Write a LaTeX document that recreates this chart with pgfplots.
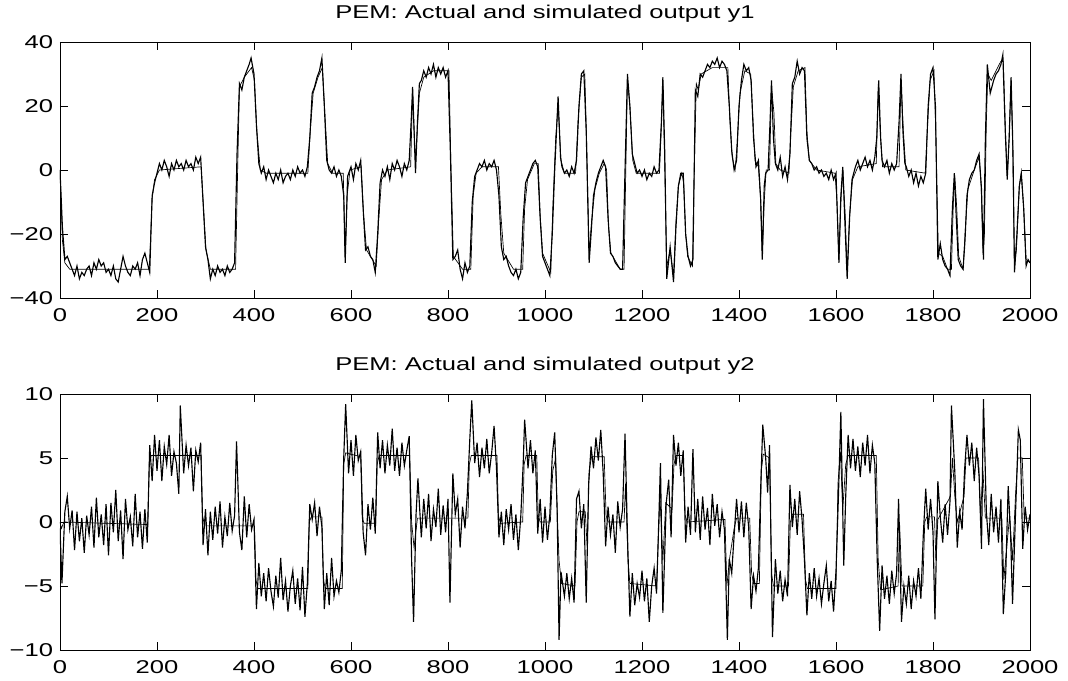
\documentclass[border=0pt]{standalone}
\usepackage{fontspec}
\setmainfont{Liberation Sans}[FakeStretch=1.38]
\usepackage{pgfplots}
\pgfplotsset{compat=1.18}

\pgfplotstableread{
x y
0 0
5 -18
10 -28
15 -27
20 -29
25 -31
30 -33
35 -30
40 -34
45 -32
50 -33
55 -31
60 -30
65 -33
70 -29
75 -31
80 -28
85 -30
90 -29
95 -32
100 -31
105 -33
110 -30
115 -34
120 -35
125 -31
130 -27
135 -30
140 -32
145 -33
150 -30
155 -31
160 -29
165 -33
170 -28
175 -26
180 -29
185 -32
190 -8
195 -4
200 -1
205 2
210 0
215 3
220 1
225 -2
230 2
235 0
240 3
245 1
250 2
255 0
260 3
265 1
270 2
275 0
280 4
285 2
290 4
295 -10
300 -24
305 -28
310 -34
315 -31
320 -33
325 -30
330 -32
335 -31
340 -33
345 -30
350 -32
355 -31
360 -29
365 5
370 27
375 25
380 29
385 31
390 33
394 35
400 30
405 14
410 2
415 -1
420 1
425 -3
430 0
435 -2
440 -4
445 -1
450 -3
455 0
460 -4
465 -2
470 -1
475 -3
480 0
485 -2
490 1
495 -1
500 0
505 -2
510 1
515 10
520 24
525 26
530 29
535 31
540 35
545 20
550 3
555 0
560 -1
565 1
570 -2
575 0
580 -2
585 -8
588 -29
593 -2
600 1
605 -3
610 2
615 0
620 3
625 -12
630 -25
635 -24
640 -27
645 -28
650 -32
655 -20
660 -4
665 0
670 -2
675 1
680 -3
685 2
690 0
695 3
700 1
705 -2
710 2
715 0
720 3
724 15
727 26
733 -1
737 15
741 27
745 28
750 31
755 29
760 32
765 30
770 33
775 29
780 32
785 30
790 32
795 29
800 31
805 5
810 -28
815 -27
820 -25
825 -31
830 -34
835 -29
840 -32
845 -30
850 -10
855 -2
860 0
865 2
870 1
875 3
880 0
885 2
890 1
895 3
900 0
905 -8
910 -24
915 -28
920 -27
925 -30
930 -32
935 -33
940 -31
945 -34
950 -32
955 -15
960 -4
965 -2
970 0
975 2
980 3
985 1
990 -15
995 -27
1000 -29
1005 -31
1010 -33
1015 -20
1020 0
1027 23
1032 4
1035 1
1040 -1
1045 0
1050 -2
1055 1
1060 -1
1065 3
1070 20
1075 30
1080 31
1085 12
1091 -29
1095 -20
1100 -8
1105 -4
1110 -1
1115 1
1120 3
1125 1
1130 -15
1135 -26
1140 -27
1145 -29
1150 -30
1155 -31
1160 -31
1165 0
1170 30
1175 20
1180 5
1185 2
1190 -1
1195 0
1200 -2
1205 0
1210 -3
1215 -1
1220 -2
1225 1
1230 -1
1235 0
1240 15
1243 29
1247 5
1251 -34
1258 -24
1265 -35
1270 -18
1275 -5
1280 -1
1285 -1
1290 -20
1295 -27
1300 -30
1305 -28
1310 25
1315 23
1320 30
1325 29
1330 31
1335 33
1340 32
1345 34
1350 33
1355 35
1360 32
1365 34
1370 33
1375 31
1380 20
1385 6
1390 0
1395 3
1400 20
1405 28
1410 33
1415 31
1420 32
1425 28
1430 10
1435 1
1440 3
1445 -10
1448 -28
1452 -5
1455 -1
1460 0
1464 15
1467 28
1471 10
1475 2
1480 0
1485 4
1490 -2
1495 1
1500 -3
1505 5
1510 27
1515 29
1520 34
1525 30
1530 32
1535 31
1540 10
1545 3
1550 2
1555 0
1560 1
1565 -1
1570 0
1575 -2
1580 -1
1585 -3
1590 0
1595 -3
1600 -1
1606 -29
1610 -8
1614 1
1618 -15
1623 -34
1628 -15
1633 -3
1640 1
1645 3
1650 0
1655 2
1660 4
1665 1
1670 3
1675 0
1680 4
1684 10
1688 28
1692 10
1695 3
1700 1
1705 3
1710 -1
1715 2
1720 0
1725 2
1730 15
1734 30
1738 12
1742 2
1745 1
1750 -2
1755 0
1760 -4
1765 -1
1770 -5
1775 -2
1780 -4
1785 -1
1790 20
1795 30
1800 32
1805 20
1810 -28
1815 -23
1820 -28
1825 -30
1830 -31
1835 -33
1840 -12
1844 -1
1848 -15
1852 -28
1857 -30
1862 -31
1866 -22
1870 -8
1875 -3
1880 -1
1885 0
1890 3
1895 5
1900 -6
1904 -28
1908 10
1912 33
1918 24
1925 28
1930 30
1935 31
1940 33
1944 36
1949 12
1953 -3
1957 10
1961 29
1965 5
1968 -32
1973 -20
1978 -5
1982 -1
1987 -12
1992 -30
1996 -28
2000 -29
}\yoneact

\pgfplotstableread{
x y
0 0
5 -22
10 -29
20 -31
184 -31
190 -9
195 -3
205 0
291 1
296 -12
301 -25
310 -31
362 -31
366 -2
370 26
380 29
395 32
401 28
406 12
413 0
425 -1
511 -1
516 12
522 24
532 29
541 32
546 18
552 2
562 -1
584 -1
586 -14
588 -27
592 -8
598 0
621 1
626 -14
632 -25
652 -30
657 -16
663 -3
675 0
723 1
727 24
733 2
741 24
750 29
770 31
802 31
806 2
811 -27
830 -31
847 -31
852 -8
858 -1
870 1
904 1
909 -14
915 -26
935 -31
954 -31
958 -12
964 -3
978 2
986 2
990 -14
995 -26
1012 -32
1016 -12
1022 10
1027 20
1033 3
1040 -1
1063 -1
1068 15
1075 29
1082 30
1086 8
1091 -26
1096 -16
1103 -6
1112 -1
1122 2
1127 0
1131 -18
1136 -26
1155 -31
1163 -31
1166 -5
1170 28
1175 20
1181 3
1188 -1
1236 -1
1239 10
1243 27
1247 0
1251 -30
1258 -25
1265 -33
1270 -16
1275 -5
1282 -1
1286 -4
1290 -20
1294 -27
1304 -30
1307 -5
1312 27
1316 25
1322 30
1345 32
1377 32
1381 16
1386 4
1392 0
1396 8
1402 24
1412 31
1424 30
1428 18
1433 3
1440 1
1444 -8
1448 -27
1452 -10
1456 0
1463 0
1467 26
1472 18
1476 2
1485 0
1503 -1
1507 12
1512 26
1522 31
1536 32
1540 12
1545 3
1560 0
1598 -1
1602 -10
1606 -28
1610 -10
1614 0
1619 -14
1623 -32
1628 -14
1634 -3
1645 1
1683 2
1687 26
1692 10
1696 1
1730 1
1734 28
1739 12
1744 0
1784 -1
1788 12
1794 28
1802 31
1806 10
1811 -26
1820 -27
1830 -31
1838 -31
1842 -10
1845 -2
1849 -12
1853 -27
1862 -31
1866 -20
1872 -6
1885 0
1895 4
1899 -4
1903 -26
1906 -20
1910 15
1913 30
1920 28
1940 34
1945 34
1949 14
1953 -2
1957 10
1961 28
1964 10
1968 -30
1972 -25
1978 -5
1982 -1
1987 -12
1992 -28
2000 -29
}\yonesim

\pgfplotstableread{
x y
0 -0.5
4 -4.8
10 0.8
15 2.0
20 -0.5
25 0.9
30 -2.2
35 0.8
40 -1.5
45 0.3
50 -2.4
55 0.5
60 -1.0
65 1.2
70 -2.0
75 1.9
80 -1.2
85 0.6
90 -1.8
95 1.4
100 -2.6
105 1.5
110 -0.8
115 2.5
120 -1.5
125 0.9
130 -2.9
135 1.8
140 -0.6
145 0.4
150 -1.9
155 2.2
160 -1.2
165 0.8
170 -2.1
175 1.0
180 -1.6
185 6.0
190 3.2
195 6.8
200 4.0
205 6.4
210 3.2
215 5.9
220 4.5
225 6.8
230 3.6
235 5.5
240 4.6
245 2.2
248 9.1
255 3.8
260 6.0
265 4.4
270 5.8
275 2.4
280 5.6
285 4.7
290 6.2
295 -1.8
300 1.0
305 -2.6
310 0.8
315 -1.4
320 1.2
325 -0.9
330 1.6
335 -2.0
340 0.4
345 -1.1
350 1.5
355 -0.7
360 0.5
364 6.3
370 -0.8
375 -2.2
380 2.0
385 -1.2
390 1.4
395 -0.6
400 0.2
405 -6.8
410 -3.2
415 -5.8
420 -4.0
425 -6.2
430 -3.6
435 -5.4
440 -6.6
445 -4.2
450 -5.9
455 -2.8
460 -6.1
465 -4.6
470 -7.0
475 -5.0
480 -3.8
485 -6.4
490 -4.4
495 -6.9
500 -3.5
505 -7.4
510 -4.8
515 1.4
520 0.2
525 1.5
530 -1.1
535 1.2
540 -0.4
545 -6.8
550 -4.0
555 -6.5
560 -2.8
565 -5.8
570 -4.6
575 -5.5
580 -3.8
585 5.0
589 9.2
595 3.8
600 6.4
605 3.6
610 6.8
615 4.8
620 5.5
625 -0.8
630 -2.6
635 1.4
640 -0.6
645 1.9
650 -0.9
655 7.0
660 4.2
665 6.4
670 3.8
675 6.0
680 4.4
685 7.3
690 4.0
695 5.8
700 3.6
705 6.2
710 4.4
715 5.6
720 6.7
725 -3.0
729 -7.8
734 0.5
738 3.4
745 -1.2
750 1.8
755 -0.5
760 2.2
765 -1.5
770 1.0
775 -0.4
780 2.6
785 -1.0
790 1.3
795 -0.8
800 1.8
804 -6.3
810 3.8
815 0.6
820 1.8
825 -2.0
830 1.2
835 -0.5
840 2.3
845 6.5
849 9.5
855 4.6
860 6.2
865 3.5
870 5.8
875 4.2
880 6.5
885 3.8
890 5.4
895 7.5
900 4.2
905 -1.2
910 0.8
915 -1.8
920 1.0
925 -0.6
930 1.4
935 -1.4
940 0.6
945 -2.2
950 0.4
955 4.5
958 8.0
965 4.2
970 6.4
975 3.8
980 5.6
985 -0.9
990 1.8
995 -1.6
1000 1.2
1005 -1.4
1010 0.6
1015 5.2
1020 7.0
1025 1.0
1029 -9.2
1033 -3.9
1040 -5.8
1045 -4.0
1050 -6.0
1055 -4.4
1060 -6.3
1065 1.8
1070 2.4
1075 -0.5
1080 1.4
1085 -6.3
1090 3.0
1095 5.9
1100 4.2
1105 6.6
1110 4.8
1115 7.2
1120 3.8
1125 -1.9
1130 1.2
1135 -1.0
1140 0.6
1145 -2.4
1150 1.6
1155 -0.4
1160 1.0
1165 6.9
1170 -1.0
1175 -7.4
1180 -4.0
1185 -6.5
1190 -4.8
1195 -5.9
1200 -3.8
1205 -6.2
1210 -4.4
1215 -7.8
1220 -5.0
1225 -3.6
1230 -5.6
1235 0.6
1238 4.6
1243 -7.1
1250 1.5
1255 3.3
1260 -1.2
1265 6.8
1270 4.4
1275 6.2
1280 3.6
1285 5.6
1290 -1.6
1295 1.2
1300 -1.0
1305 5.7
1310 -0.8
1315 1.8
1320 -1.4
1325 2.0
1330 -0.6
1335 1.1
1340 -1.8
1345 2.2
1350 -0.3
1355 1.4
1360 -1.2
1365 0.8
1370 -0.6
1376 -9.2
1380 -2.9
1385 -4.0
1390 -1.0
1395 1.8
1400 -0.8
1405 1.6
1410 -1.2
1415 1.5
1420 -0.4
1425 -6.8
1430 -4.2
1435 -5.4
1440 -3.6
1445 3.0
1449 7.6
1455 5.0
1459 2.3
1463 6.0
1469 -9.0
1475 -2.9
1480 -5.6
1485 -3.8
1490 -6.2
1495 -4.5
1500 -5.8
1505 2.9
1510 -0.4
1515 1.8
1520 -1.0
1525 2.4
1530 0.2
1535 -3.0
1540 -7.3
1545 -4.0
1550 -6.0
1555 -3.6
1560 -5.8
1565 -4.4
1570 -6.4
1575 -4.8
1580 -3.4
1585 -6.2
1590 -4.6
1595 -7.0
1600 -3.8
1605 2.0
1610 8.6
1616 -3.4
1620 2.0
1625 6.8
1630 4.2
1635 6.5
1640 4.0
1645 5.9
1650 3.5
1655 6.2
1660 4.4
1665 6.8
1670 3.8
1675 6.0
1680 4.6
1685 -3.0
1690 -8.5
1695 -3.4
1700 -6.0
1705 -4.2
1710 -6.4
1715 -3.8
1720 -5.6
1725 -4.0
1729 1.8
1735 -7.8
1740 -5.0
1745 -6.4
1750 -4.2
1755 -6.8
1760 -4.6
1765 -5.8
1770 -3.6
1775 -6.0
1780 -1.0
1785 2.6
1790 -0.6
1795 1.8
1800 -0.8
1804 -7.6
1810 3.2
1815 0.4
1820 -1.6
1825 1.4
1830 -1.0
1835 1.6
1838 9.1
1845 3.9
1850 -2.0
1855 0.8
1860 -0.6
1865 4.0
1870 6.8
1875 4.4
1880 6.2
1885 3.2
1890 5.8
1895 3.6
1900 -2.1
1904 9.6
1910 0.8
1915 -1.8
1920 2.2
1925 -0.8
1930 1.2
1935 -1.6
1940 1.8
1945 -7.2
1950 -4.0
1955 2.8
1960 -1.0
1964 -6.4
1970 0.5
1976 7.2
1980 6.4
1985 -2.1
1990 1.2
1995 -0.6
2000 0.6
}\ytwoact

\pgfplotstableread{
x y
0 0
3 -0.5
8 0
181 -0.2
184 4.5
188 5.2
291 5.2
294 0.5
298 -0.3
401 -0.3
404 -4.5
408 -5.2
511 -5.2
514 0
518 0.4
540 0.4
543 -4.5
547 -5.2
582 -5.2
585 4.5
589 5.4
620 5.1
623 0.3
627 -0.1
651 -0.1
654 4.5
658 5.2
721 5.2
725 0
730 -2
737 0.3
841 0.3
844 4.5
848 5.2
901 5.2
904 0.5
908 -0.1
954 0
957 4.5
961 5.2
983 5.2
986 0.5
990 0
1011 0
1016 4
1022 5
1025 1
1029 -3
1034 -4.8
1062 -5
1066 0
1070 0.8
1083 0.8
1087 -2
1091 4
1096 5.1
1122 5.1
1126 0.5
1130 0
1163 0
1166 3
1171 -3
1175 -4.8
1230 -5
1237 2
1243 -3
1249 1.5
1262 1
1266 4.5
1270 5.2
1285 5.2
1289 0.5
1293 0
1371 0.2
1375 -5
1380 -3
1390 -0.5
1395 0.3
1422 0.3
1426 -4
1430 -4.8
1442 -4.8
1446 4
1450 5.3
1463 5
1467 -4
1471 -5
1502 -5
1506 0
1510 0.6
1533 0.6
1537 -4.5
1541 -5.2
1600 -5.2
1604 3
1609 5.5
1614 1
1620 4.5
1625 5.2
1683 5.2
1687 -3
1692 -5.3
1728 -5
1731 0
1736 -5
1779 -5
1783 0
1787 0.4
1803 0.4
1806 -3
1810 0.2
1836 2
1840 5
1845 2
1850 0
1864 2
1868 5
1894 5
1898 0.5
1903 4
1908 0.3
1942 0.3
1946 -4.5
1952 -2
1958 0.5
1964 -3
1970 2
1975 5
1984 5
1988 0.3
2000 0.3
}\ytwosim

\begin{document}
\begin{tikzpicture}
\path[use as bounding box] (0,0) rectangle (801pt,-510.75pt);
\pgfplotsset{
  matlab/.style={
    scale only axis,
    width=727.5pt, height=192pt,
    xmin=0, xmax=2000,
    axis line style={line width=0.6pt},
    tick align=inside,
    xtick pos=both, ytick pos=both,
    major tick length=6pt,
    tick style={line width=0.6pt, black},
    scaled ticks=false,
    xtick={0,200,...,2000},
    xticklabels={0,200,400,600,800,1000,1200,1400,1600,1800,2000},
    tick label style={font=\fontsize{13.9}{16}\selectfont, inner sep=0pt},
    xticklabel style={yshift=-7.5pt},
    yticklabel style={xshift=-5pt},
    title style={font=\fontsize{13.9}{16}\selectfont, at={(0.5,1)}, anchor=base, yshift=11.6pt, inner sep=0pt},
  }
}
\begin{axis}[matlab, at={(45pt,-31.5pt)}, anchor=north west,
  ymin=-40, ymax=40,
  ytick={-40,-20,0,20,40},
  yticklabels={−40,−20,0,20,40},
  title={PEM: Actual and simulated output y1}]
\addplot[black, line width=0.5pt] table {\yonesim};
\addplot[black, line width=0.85pt] table {\yoneact};
\end{axis}
\begin{axis}[matlab, at={(45pt,-295.5pt)}, anchor=north west,
  ymin=-10, ymax=10,
  ytick={-10,-5,0,5,10},
  yticklabels={−10,−5,0,5,10},
  title={PEM: Actual and simulated output y2}]
\addplot[black, line width=0.5pt] table {\ytwosim};
\addplot[black, line width=0.85pt] table {\ytwoact};
\end{axis}
\end{tikzpicture}
\end{document}
